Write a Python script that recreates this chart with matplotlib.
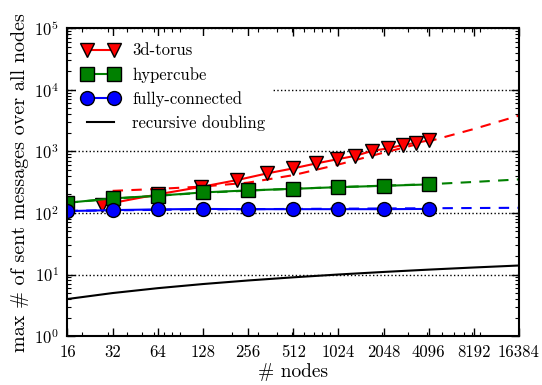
import numpy as np
import matplotlib
matplotlib.use("Agg")
import matplotlib.pyplot as plt
from matplotlib.ticker import LogLocator, NullFormatter

plt.rcParams['font.family'] = 'cmr10'
plt.rcParams['mathtext.fontset'] = 'cm'
plt.rcParams['axes.formatter.use_mathtext'] = True
plt.rcParams['xtick.direction'] = 'in'
plt.rcParams['ytick.direction'] = 'in'
plt.rcParams['xtick.top'] = True
plt.rcParams['ytick.right'] = True

torus_nodes = [27, 64, 125, 216, 343, 512, 729, 1000, 1331, 1728, 2197, 2744, 3375, 4096]
torus_msgs = [134, 200, 265, 341, 438, 528, 636, 739, 846, 1019, 1115, 1262, 1374, 1500]

cube_nodes = [16, 32, 64, 128, 256, 512, 1024, 2048, 4096]
cube_msgs = [146, 172, 190, 215, 232, 246, 262, 275, 290]

full_nodes = [16, 32, 64, 128, 256, 512, 1024, 2048, 4096]
full_msgs = [107, 111, 114, 116, 115, 115, 115, 115, 116]

# recursive doubling reference: log2(n) messages
rd_nodes = [16, 32, 64, 128, 256, 512, 1024, 2048, 4096, 8192, 16384]
rd_msgs = [4, 5, 6, 7, 8, 9, 10, 11, 12, 13, 14]

# fitted / extrapolated curves (dashed)
fit_nodes = [16, 32, 64, 128, 256, 512, 1024, 2048, 4096, 8192, 16384]
torus_fit = [None, 228, 245, 268, 310, 410, 610, 950, 1450, 2300, 3800]
cube_fit = [146, 170, 190, 212, 230, 247, 262, 277, 292, 318, 350]
full_fit = [108, 110, 112, 114, 115, 116, 117, 118, 119, 120, 121]

xticks = [16, 32, 64, 128, 256, 512, 1024, 2048, 4096, 8192, 16384]

fig = plt.figure(figsize=(5.42, 3.85), dpi=100)
ax = fig.add_axes([0.1245, 0.127, 0.833, 0.8])

tf_x = [n for n, v in zip(fit_nodes, torus_fit) if v is not None]
tf_y = [v for v in torus_fit if v is not None]
ax.plot(tf_x, tf_y, '--', color='red', lw=1.5, dashes=(5, 4))
ax.plot(fit_nodes, cube_fit, '--', color='green', lw=1.5, dashes=(5, 4))
ax.plot(fit_nodes, full_fit, '--', color='blue', lw=1.5, dashes=(5, 4))

ax.plot(torus_nodes, torus_msgs, '-', color='red', lw=1.5, marker='v', ms=10,
        mfc='red', mec='black', mew=1.0, label='3d-torus')
ax.plot(cube_nodes, cube_msgs, '-', color='green', lw=1.5, marker='s', ms=10,
        mfc='green', mec='black', mew=1.0, label='hypercube')
ax.plot(full_nodes, full_msgs, '-', color='blue', lw=1.5, marker='o', ms=10,
        mfc='blue', mec='black', mew=1.0, label='fully-connected')
ax.plot(rd_nodes, rd_msgs, '-', color='black', lw=1.5, label='recursive doubling')

ax.set_xscale('log', base=2)
ax.set_yscale('log')
ax.set_xlim(16, 16384)
ax.set_ylim(1, 1e5)
ax.set_xticks(xticks, labels=[str(t) for t in xticks])
ax.xaxis.set_minor_locator(LogLocator(base=10, subs=np.arange(2, 10), numticks=50))
ax.xaxis.set_minor_formatter(NullFormatter())
ax.yaxis.grid(True, which='major', linestyle=':', color='black', lw=1.0)

ax.tick_params(which='major', length=6, width=1, labelsize=12, pad=6)
ax.tick_params(which='minor', length=3, width=0.8)
for s in ax.spines.values():
    s.set_linewidth(1.5)

ax.set_xlabel('# nodes', fontsize=14, labelpad=2)
ax.set_ylabel('max # of sent messages over all nodes', fontsize=14.5)

leg = ax.legend(loc='upper left', numpoints=2, fontsize=12, handlelength=2.2,
                handletextpad=0.8, labelspacing=0.5, borderaxespad=0.5,
                fancybox=False, framealpha=1.0)
leg.get_frame().set_edgecolor('none')

fig.savefig('out.png', dpi=100)
